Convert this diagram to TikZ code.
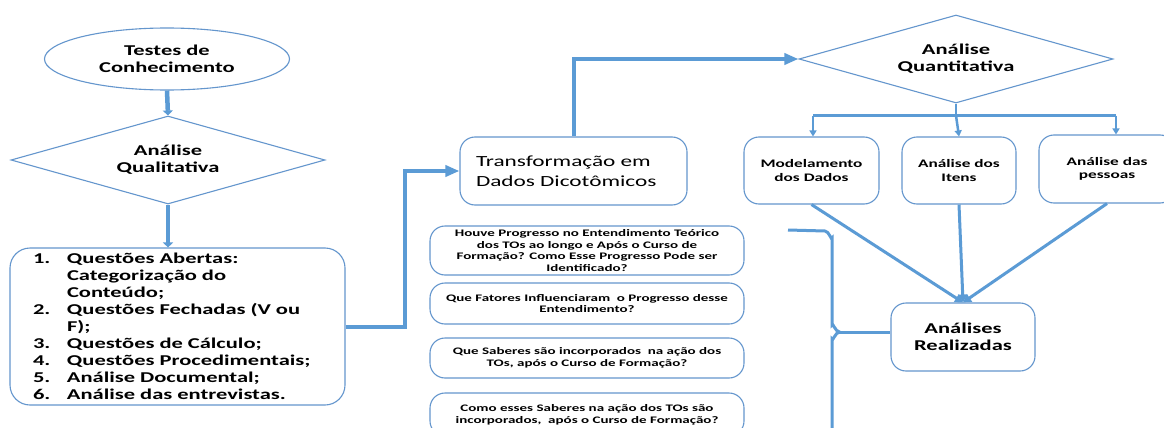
\documentclass[tikz,border=0pt]{standalone}
\usepackage{fontspec}
\setmainfont{Carlito}[FakeStretch=1.5]
\usetikzlibrary{shapes.geometric,arrows.meta,calc}
\definecolor{connc}{RGB}{91,155,213}
\definecolor{outl}{RGB}{100,150,205}
\begin{document}
\begin{tikzpicture}[x=1pt,y=-1pt,
  shapebase/.style={draw=outl, line width=1.1pt, fill=white, align=center, inner sep=2pt,
    font=\bfseries\fontsize{15}{17}\selectfont},
  rbox/.style={shapebase, rectangle, rounded corners=15pt},
  qbox/.style={rbox, minimum width=314pt, font=\bfseries\fontsize{10}{11.7}\selectfont},
  sbox/.style={rbox, minimum height=67pt, font=\bfseries\fontsize{11.5}{13.5}\selectfont},
  dia/.style={shapebase, diamond, aspect=3.5, minimum width=314pt, minimum height=88pt},
  thickconn/.style={draw=connc, line width=4pt, -{Triangle[length=14pt,width=11pt]}},
  downconn/.style={draw=connc, line width=4.5pt, -{Triangle[length=5pt,width=10pt]}},
  branch/.style={draw=connc, line width=2.5pt},
  brarrow/.style={branch, -{Triangle[length=6pt,width=7pt]}},
  convconn/.style={draw=connc, line width=3pt, -{Triangle[length=8pt,width=9pt]}},
  bracel/.style={draw=connc, line width=3pt}
]
\clip (0,0) rectangle (1164,428);
\fill[white] (0,0) rectangle (1164,428);

% left column
\node[shapebase, ellipse, minimum width=245pt, minimum height=62pt, inner sep=0pt] (ell) at (167,59) {Testes de\\Conhecimento};
\node[dia] (qual) at (168,160) {Análise\\Qualitativa};
\node[rbox, rounded corners=20pt, minimum width=335pt, minimum height=157pt, text width=289pt, align=left] (list) at (177.5,326.5) {%
\makebox[34pt][l]{1.}Questões Abertas:\\
\hspace*{34pt}Categorização do\\
\hspace*{34pt}Conteúdo;\\
\makebox[34pt][l]{2.}Questões Fechadas (V ou\\
\hspace*{34pt}F);\\
\makebox[34pt][l]{3.}Questões de Cálculo;\\
\makebox[34pt][l]{4.}Questões Procedimentais;\\
\makebox[34pt][l]{5.}Análise Documental;\\
\makebox[34pt][l]{6.}Análise das entrevistas.};

% middle column
\node[rbox, minimum width=227pt, minimum height=68pt, text width=195pt, align=left,
  font=\fontsize{15.5}{19.5}\selectfont] (trans) at (573.5,171) {Transformação em\\Dados Dicotômicos};
\node[qbox, minimum height=49pt] (q1) at (587,250.5) {Houve Progresso no Entendimento Teórico\\dos TOs ao longo e Após o Curso de\\Formação? Como Esse Progresso Pode ser\\Identificado?};
\node[qbox, minimum height=41pt] (q2) at (587,303.5) {Que Fatores Influenciaram\ \ o Progresso desse\\Entendimento?};
\node[qbox, minimum height=40pt] (q3) at (587,358) {Que Saberes são incorporados\ \ na ação dos\\TOs, após o Curso de Formação?};
\node[qbox, minimum height=43pt] (q4) at (587,414.5) {Como esses Saberes na ação dos TOs são\\incorporados,\ \ após o Curso de Formação?};

% right column
\node[dia] (quant) at (956,59) {Análise\\Quantitativa};
\node[sbox, minimum width=135pt] (model) at (811.5,170.5) {Modelamento\\dos Dados};
\node[sbox, minimum width=114pt] (itens) at (959,170.5) {Análise dos\\Itens};
\node[sbox, minimum width=136pt, minimum height=68pt] (pess) at (1107,169) {Análise das\\pessoas};
\node[rbox, minimum width=144pt, minimum height=68pt] (anal) at (963,337) {Análises\\Realizadas};

% connectors
\draw[downconn] (ell.south) -- (qual.north);
\draw[downconn] (qual.south) -- (qual.south |- list.north);
\draw[thickconn] (list.east) -- ++(59,0) |- (trans.west);
\draw[thickconn] (trans.north) |- (quant.west);

\coordinate (br) at ($(quant.south)+(0,12)$);
\coordinate (brl) at ($(model.north |- br)+(1.5,0)$);
\coordinate (brr) at ($(pess.north |- br)+(9,0)$);
\draw[branch] (quant.south) -- (br);
\draw[branch] (brl) -- (brr);
\draw[brarrow] (brl) -- (brl |- model.north);
\draw[brarrow] (br) -- (itens.north);
\draw[brarrow] (brr) -- (brr |- pess.north);

\draw[convconn] (model.south) -- (anal.north);
\draw[convconn] (itens.south) -- (anal.north);
\draw[convconn] (pess.south) -- (anal.north);

% brace
\coordinate (btop) at (788,230);
\coordinate (btip) at ($(anal.west)+(-51,-5)$);
\draw[bracel] (btop) -- (825,231) to[out=0,in=-90] (832,238) -- (832,325)
  to[out=90,in=180] (btip) to[out=180,in=-90] (832,339) -- (832,440);
\draw[bracel] (btip) -- (anal.west |- btip);
\end{tikzpicture}
\end{document}
